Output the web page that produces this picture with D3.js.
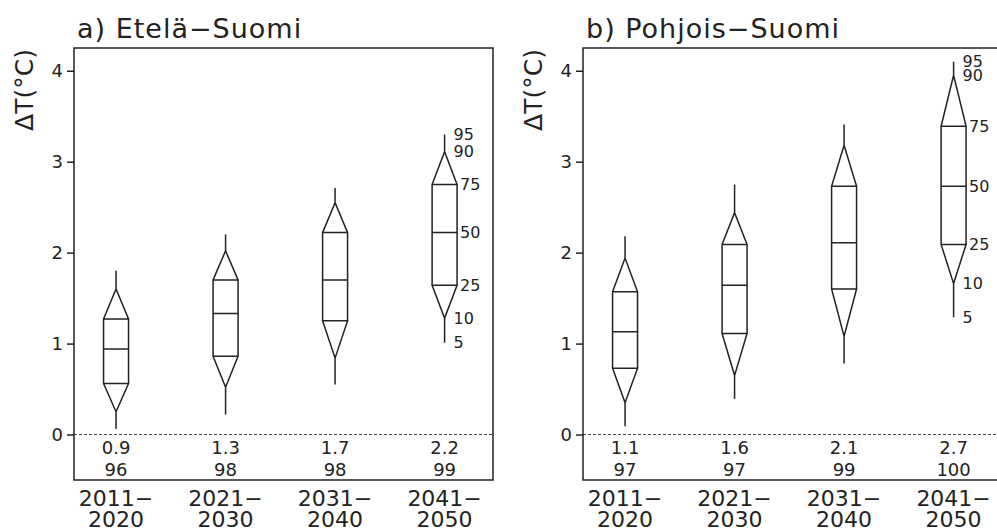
<!DOCTYPE html>
<html>
<head>
<meta charset="utf-8">
<script src="https://cdn.jsdelivr.net/npm/d3@7"></script>
<style>
  body { margin: 0; background: #fff; }
  text { font-family: "DejaVu Sans", sans-serif; fill: #222; }
</style>
</head>
<body>
<div id="chart"></div>
<script>
// data
var periodStart = ["2011\u2212", "2021\u2212", "2031\u2212", "2041\u2212"];
var periodEnd = ["2020", "2030", "2040", "2050"];
var percentiles = [5, 10, 25, 50, 75, 90, 95];

// each row: p5, p10, p25, p50, p75, p90, p95
var southBoxes = [
    [0.06, 0.25, 0.56, 0.94, 1.27, 1.60, 1.80],
    [0.22, 0.52, 0.86, 1.33, 1.70, 2.02, 2.20],
    [0.55, 0.84, 1.25, 1.70, 2.22, 2.55, 2.71],
    [1.01, 1.28, 1.64, 2.22, 2.75, 3.11, 3.30]
];
var southMean = ["0.9", "1.3", "1.7", "2.2"];
var southProb = [96, 98, 98, 99];

var northBoxes = [
    [0.09, 0.35, 0.73, 1.13, 1.57, 1.94, 2.18],
    [0.39, 0.65, 1.11, 1.64, 2.09, 2.44, 2.75],
    [0.78, 1.08, 1.60, 2.11, 2.73, 3.18, 3.41],
    [1.29, 1.66, 2.09, 2.73, 3.39, 3.95, 4.10]
];
var northMean = ["1.1", "1.6", "2.1", "2.7"];
var northProb = [97, 97, 99, 100];

var yTicks = [0, 1, 2, 3, 4];

var width = 419, height = 432;
var boxHalf = 0.114;   // half box width in x units

var svg = d3.select("#chart").append("svg")
    .attr("width", 997)
    .attr("height", 532);

var x = d3.scaleLinear().domain([0.616, 4.442]).range([0, width]);
var y = d3.scaleLinear().domain([-0.5, 4.25]).range([height, 0]);

function drawPanel(left, title, boxes, means, probs) {
    var g = svg.append("g")
        .attr("transform", "translate(" + left + ",48)");

    // title
    g.append("text")
        .attr("x", 3)
        .attr("y", -10)
        .style("font-size", "27px")
        .style("letter-spacing", "1px")
        .text(title);

    // y label
    g.append("text")
        .attr("transform", "rotate(-90)")
        .attr("x", -42)
        .attr("y", -41)
        .style("font-size", "25px")
        .style("text-anchor", "middle")
        .text("\u0394T(\u00B0C)");

    // zero line
    g.append("line")
        .attr("x1", 0).attr("x2", width)
        .attr("y1", y(0)).attr("y2", y(0))
        .style("stroke", "#444")
        .style("stroke-width", 1)
        .style("stroke-dasharray", "3,2");

    // y axis
    var yAxis = d3.axisLeft(y).tickValues(yTicks).tickFormat(d3.format("d"))
        .tickSize(7).tickPadding(4);
    var ya = g.append("g").call(yAxis);
    ya.select(".domain").remove();
    ya.selectAll("line").style("stroke", "#222").style("stroke-width", 1.5);
    ya.selectAll("text").style("font-size", "18px").style("font-family", "DejaVu Sans").attr("fill", "#222");

    var box = g.selectAll(".box")
        .data(boxes)
        .enter().append("g")
        .attr("class", "box");

    // shape: whisker, triangle, box, triangle, whisker
    box.append("path")
        .attr("d", function(d, i) {
            var c = x(i + 1), l = x(i + 1 - boxHalf), r = x(i + 1 + boxHalf);
            return "M" + c + "," + y(d[0]) + "V" + y(d[1]) +
                "L" + l + "," + y(d[2]) + "H" + r + "L" + c + "," + y(d[1]) +
                "M" + l + "," + y(d[2]) + "V" + y(d[4]) + "H" + r + "V" + y(d[2]) +
                "M" + l + "," + y(d[3]) + "H" + r +
                "M" + l + "," + y(d[4]) + "L" + c + "," + y(d[5]) + "L" + r + "," + y(d[4]) +
                "M" + c + "," + y(d[5]) + "V" + y(d[6]);
        })
        .style("fill", "none")
        .style("stroke", "#222")
        .style("stroke-width", 1.5)
        .style("stroke-linejoin", "miter");

    // percentile labels on the last box
    var last = boxes[boxes.length - 1];
    g.selectAll(".plabel")
        .data(percentiles)
        .enter().append("text")
        .attr("class", "plabel")
        .attr("x", function(p, k) {
            var n = boxes.length;
            return (k >= 2 && k <= 4) ? x(n + boxHalf) + 3 : x(n) + 9;
        })
        .attr("y", function(p, k) { return y(last[k]); })
        .attr("dy", "0.36em")
        .style("font-size", "16px")
        .text(function(p) { return p; });

    // mean and probability under zero line
    g.selectAll(".mean")
        .data(means)
        .enter().append("text")
        .attr("x", function(d, i) { return x(i + 1); })
        .attr("y", y(0) + 13)
        .attr("dy", "0.36em")
        .style("font-size", "18px")
        .style("text-anchor", "middle")
        .text(function(d) { return d; });

    g.selectAll(".prob")
        .data(probs)
        .enter().append("text")
        .attr("x", function(d, i) { return x(i + 1); })
        .attr("y", y(0) + 35)
        .attr("dy", "0.36em")
        .style("font-size", "18px")
        .style("text-anchor", "middle")
        .text(function(d) { return d; });

    // x labels
    var xl = g.selectAll(".xlab")
        .data(periodStart)
        .enter().append("text")
        .attr("class", "xlab")
        .style("font-size", "22px")
        .style("text-anchor", "middle");
    xl.append("tspan")
        .attr("x", function(d, i) { return x(i + 1); })
        .attr("y", height + 18)
        .attr("dy", "0.36em")
        .text(function(d) { return d; });
    xl.append("tspan")
        .attr("x", function(d, i) { return x(i + 1); })
        .attr("y", height + 39)
        .attr("dy", "0.36em")
        .text(function(d, i) { return periodEnd[i]; });

    // frame
    g.append("rect")
        .attr("width", width)
        .attr("height", height)
        .style("fill", "none")
        .style("stroke", "#222")
        .style("stroke-width", 1.5);
}

drawPanel(74, "a) Etel\u00E4\u2212Suomi", southBoxes, southMean, southProb);
drawPanel(583, "b) Pohjois\u2212Suomi", northBoxes, northMean, northProb);
</script>
</body>
</html>
